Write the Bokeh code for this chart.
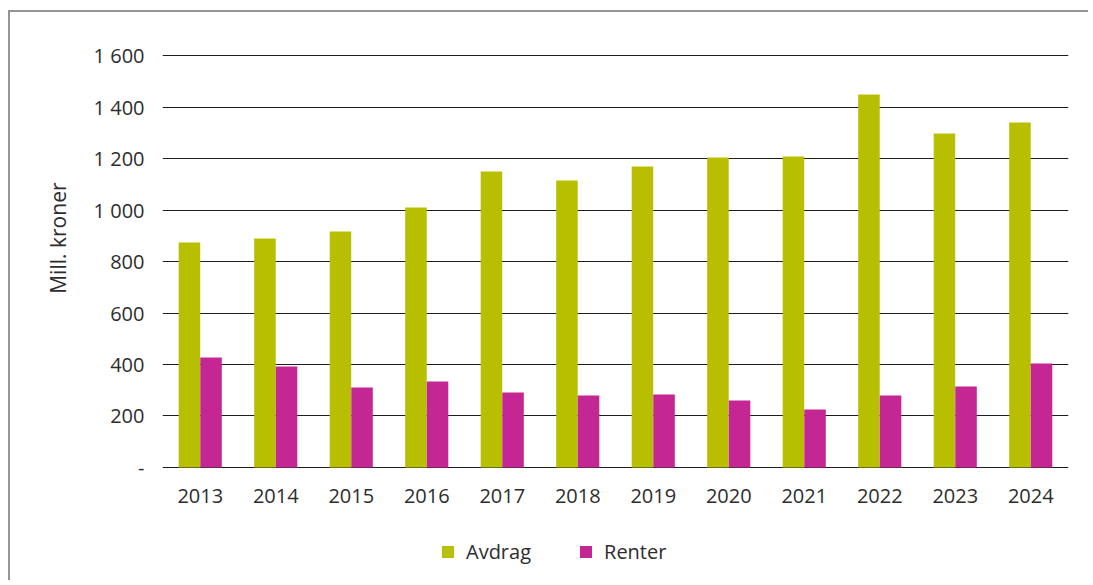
from bokeh.plotting import figure
from bokeh.models import ColumnDataSource, FactorRange, Range1d, Legend, LegendItem, FixedTicker, Title
from bokeh.transform import dodge
from bokeh.embed import file_html
from bokeh.resources import INLINE

years = ["2013", "2014", "2015", "2016", "2017", "2018", "2019", "2020", "2021", "2022", "2023", "2024"]
avdrag = [874, 889, 917, 1010, 1150, 1115, 1169, 1204, 1208, 1449, 1297, 1340]
renter = [427, 392, 311, 334, 291, 280, 283, 260, 225, 280, 315, 404]
y_ticks = [0, 200, 400, 600, 800, 1000, 1200, 1400, 1600]
y_tick_labels = ["-", "200", "400", "600", "800", "1 000", "1 200", "1 400", "1 600"]
series_names = ["Avdrag", "Renter"]
colors = ["#b7bf00", "#c42794"]

FONT = "Open Sans"
TEXT = "#2d2d2d"

source = ColumnDataSource(dict(year=years, avdrag=avdrag, renter=renter))

# the frame reaches below the zero line so that the legend sits inside it
p = figure(width=1080, height=570, x_range=FactorRange(*years, range_padding=0),
           y_range=Range1d(-408, 1612), output_backend="svg", toolbar_location=None,
           min_border_left=152, min_border_right=22, min_border_top=40, min_border_bottom=10)
p.margin = (12, 0, 0, 10)
p.styles = {"box-shadow": "-2px -2px 0 0 #959595"}
p.outline_line_color = None

r1 = p.vbar(x=dodge("year", -0.143, range=p.x_range), top="avdrag", width=0.285,
            source=source, fill_color=colors[0], line_color=None)
r2 = p.vbar(x=dodge("year", 0.143, range=p.x_range), top="renter", width=0.285,
            source=source, fill_color=colors[1], line_color=None)

p.xgrid.grid_line_color = None
p.ygrid.grid_line_color = "#1e1e1e"
p.ygrid.grid_line_width = 1
p.ygrid.level = "underlay"

p.yaxis.ticker = FixedTicker(ticks=y_ticks)
p.yaxis.major_label_overrides = {t: l for t, l in zip(y_ticks, y_tick_labels)}
p.yaxis.axis_line_color = None
p.yaxis.major_tick_line_color = None
p.yaxis.minor_tick_line_color = None
p.yaxis.major_label_standoff = 12

p.xaxis.fixed_location = 0
p.xaxis.axis_line_color = None
p.xaxis.major_tick_line_color = None
p.xaxis.minor_tick_line_color = None
p.xaxis.major_label_standoff = 16

for ax in (p.xaxis[0], p.yaxis[0]):
    ax.major_label_text_font = FONT
    ax.major_label_text_font_size = "20px"
    ax.major_label_text_color = TEXT

# y-axis title, placed along the 0-1600 span rather than the whole frame
ytitle = Title(text="Mill. kroner", align="right", offset=130, standoff=38,
               text_font=FONT, text_font_size="21px", text_font_style="normal",
               text_color=TEXT)
p.add_layout(ytitle, "left")

legend = Legend(items=[LegendItem(label=series_names[0], renderers=[r1]),
                       LegendItem(label=series_names[1], renderers=[r2])],
                orientation="horizontal", location=(278, 7),
                glyph_width=15, glyph_height=15, label_standoff=11, spacing=47,
                label_height=20,
                padding=0, margin=0, border_line_color=None, background_fill_alpha=0,
                label_text_font=FONT, label_text_font_size="20px", label_text_color=TEXT)
p.add_layout(legend, "center")

open("out.html", "w").write(file_html(p, INLINE))
